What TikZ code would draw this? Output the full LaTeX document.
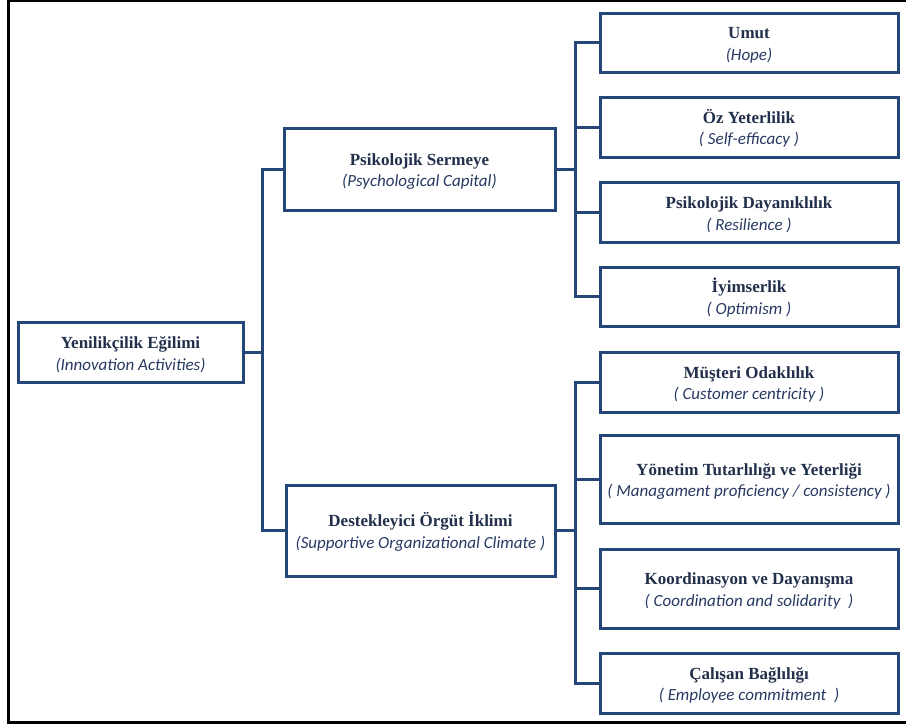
\documentclass[tikz,border=0pt]{standalone}
\usepackage{fontspec}
\setmainfont{Liberation Serif}
\newfontfamily\engfont{Carlito}
\definecolor{linecol}{RGB}{36,70,120}
\definecolor{textcol}{RGB}{35,48,75}
\definecolor{itcol}{RGB}{40,58,98}
\newcommand{\boxtxt}[2]{\rule{0pt}{17pt}{\bfseries #1}\\[1.5pt]{\color{itcol}\engfont\itshape #2}}
\begin{document}
\begin{tikzpicture}[x=1pt,y=-1pt,
  box/.style={draw=linecol,line width=3pt,fill=white,align=center,inner sep=0pt,
    text=textcol,font=\fontsize{17}{20}\selectfont},
  conn/.style={draw=linecol,line width=3pt,line join=miter},
  frame/.style={draw=black,line width=3pt}]
\useasboundingbox (0,0) rectangle (906,724);
% outer frame
\coordinate (f1) at (8.5,0);
\coordinate (f2) at (8.5,722);
\coordinate (f3) at (910,722);
\coordinate (f4) at (910,1);
\draw[frame] (f3) -- (f2) -- (f1);
\draw[draw=black,line width=2.5pt] (8.5,1) -- (f4);
% nodes
\node[box,minimum width=225,minimum height=60] (yen) at (130.5,352) {\boxtxt{Yenilikçilik Eğilimi}{(Innovation Activities)}};
\node[box,minimum width=271,minimum height=82] (psi) at (419.5,169) {\boxtxt{Psikolojik Sermeye}{(Psychological Capital)}};
\node[box,minimum width=269,minimum height=91] (des) at (420.5,530.5) {\boxtxt{Destekleyici Örgüt İklimi}{(Supportive Organizational Climate )}};
\node[box,minimum width=298,minimum height=59] (umut) at (749,42.5) {\boxtxt{Umut}{(Hope)}};
\node[box,minimum width=298,minimum height=60] (oz) at (749,127) {\boxtxt{Öz Yeterlilik}{( Self-efficacy )}};
\node[box,minimum width=298,minimum height=60] (pd) at (749,212) {\boxtxt{Psikolojik Dayanıklılık}{( Resilience )}};
\node[box,minimum width=298,minimum height=59] (iy) at (749,296.5) {\boxtxt{İyimserlik}{( Optimism )}};
\node[box,minimum width=298,minimum height=60] (mu) at (749,382) {\boxtxt{Müşteri Odaklılık}{( Customer centricity )}};
\node[box,minimum width=298,minimum height=88] (yo) at (749,479) {\boxtxt{Yönetim Tutarlılığı ve Yeterliği}{( Managament proficiency / consistency )}};
\node[box,minimum width=298,minimum height=79] (ko) at (749,588.5) {\boxtxt{Koordinasyon ve Dayanışma}{( Coordination and solidarity \ )}};
\node[box,minimum width=298,minimum height=60] (ca) at (749,683) {\boxtxt{Çalışan Bağlılığı}{( Employee commitment \ )}};
% connectors
\draw[conn] (psi.west) -- ++(-20,0) |- (yen.east);
\draw[conn] (des.west) -- ++(-22,0) |- (yen.east);
\foreach \c in {umut,oz,pd,iy} \draw[conn] (\c.west) -- ++(-23,0) |- (psi.east);
\foreach \c in {mu,yo,ko,ca} \draw[conn] (\c.west) -- ++(-23,0) |- (des.east);
\end{tikzpicture}
\end{document}
